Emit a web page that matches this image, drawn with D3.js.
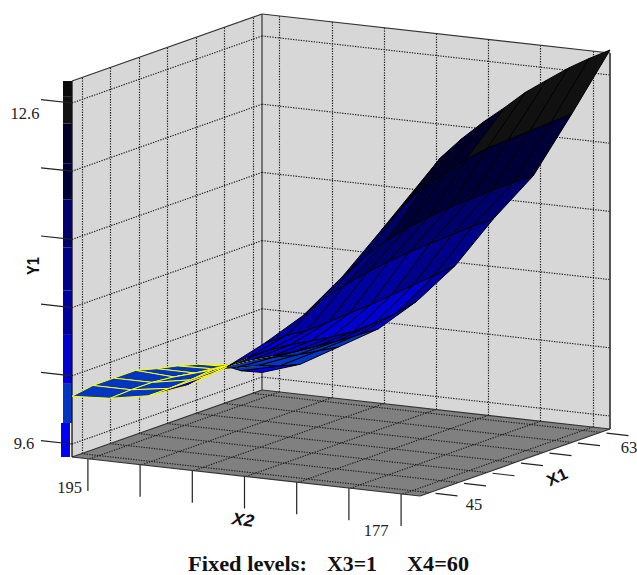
<!DOCTYPE html>
<html><head><meta charset="utf-8">
<script src="https://cdn.jsdelivr.net/npm/d3@7/dist/d3.min.js"></script>
<style>html,body{margin:0;padding:0;background:#fff}svg{display:block}</style>
</head><body><svg id="c" width="637" height="575"></svg>
<script>
// ---- data ----
const x1Ticks = [45,48,51,54,57,60,63];
const x2Ticks = [195,192,189,186,183,180,177];
const y1Ticks = [9.6,10.2,10.8,11.4,12,12.6];
const x1Grid = [44,46.2,48.4,50.7,52.9,55.1,57.3,59.6,61.8,64];
const x2Grid = [196,193.8,191.6,189.3,187.1,184.9,182.7,180.4,178.2,176];
const y1Surface = [
 [10.02,10.05,10.05,10.05,10.00, 9.96, 9.91, 9.84, 9.72, 9.64],
 [10.04,10.05,10.05,10.03,10.00, 9.97, 9.92, 9.87, 9.80, 9.75],
 [10.10,10.10,10.11,10.13,10.12,10.09,10.05,10.00, 9.97, 9.94],
 [10.23,10.26,10.28,10.26,10.23,10.20,10.18,10.16,10.15,10.14],
 [10.43,10.45,10.45,10.43,10.40,10.37,10.35,10.36,10.38,10.42],
 [10.68,10.68,10.66,10.67,10.68,10.69,10.71,10.73,10.75,10.77],
 [10.96,11.05,11.10,11.14,11.17,11.19,11.20,11.21,11.22,11.22],
 [11.35,11.45,11.52,11.57,11.60,11.62,11.63,11.64,11.64,11.64],
 [11.79,11.93,12.03,12.10,12.15,12.18,12.19,12.20,12.21,12.22],
 [12.24,12.40,12.50,12.58,12.64,12.71,12.75,12.79,12.81,12.82]
];
const bandLimits = [9.785,10.13,10.56,10.95,11.33,11.75,12.07,12.42,12.66];
const bandColors = ["#0000f4","#0036c2","#0000d0","#0000a0","#000088","#00006c","#000038","#00002a","#111111","#0a0a0a"];
const fixedLabels = ["Fixed levels:","X3=1","X4=60"];

// ---- scales: an oblique projection of the three axes ----
const uScale = d3.scaleLinear().domain([44,64]).range([0,1]);
const vScale = d3.scaleLinear().domain([196,176]).range([0,1]);
const hScale = d3.scaleLinear().domain([9.6,12.6]).range([13,354]);
const origin=[72,457], uVec=[190,-67], vVec=[348,39];
function P(x1,x2,y){
  const u=uScale(x1), v=vScale(x2);
  return [origin[0]+uVec[0]*u+vVec[0]*v, origin[1]+uVec[1]*u+vVec[1]*v-hScale(y)];
}
const colorOf = d3.scaleThreshold().domain(bandLimits).range(bandColors);
const [x1a,x1b]=uScale.domain(), [x2a,x2b]=vScale.domain();
const yLow=hScale.invert(0), yHigh=hScale.invert(376);

const svg=d3.select("#c");
const line=d3.line();
const poly=pts=>line(pts)+"Z";
const snap=p=>[Math.round(p[0])+.5,p[1]];

// walls and floor
svg.append("path").attr("d",poly([P(x1a,x2a,yLow),P(x1b,x2a,yLow),P(x1b,x2a,yHigh),P(x1a,x2a,yHigh)])).attr("fill","#d7d7d7");
svg.append("path").attr("d",poly([P(x1b,x2a,yLow),P(x1b,x2b,yLow),P(x1b,x2b,yHigh),P(x1b,x2a,yHigh)])).attr("fill","#d7d7d7");
svg.append("path").attr("d",poly([P(x1a,x2a,yLow),P(x1b,x2a,yLow),P(x1b,x2b,yLow),P(x1a,x2b,yLow)])).attr("fill","#808080");

// dotted grid
const gridG=svg.append("g").attr("fill","none").attr("stroke","#1c1c1c").attr("stroke-width",1.15).attr("stroke-dasharray","1.3,1.3");
const seg=(a,b)=>gridG.append("path").attr("d",line([a,b]));
x1Ticks.forEach(t=>{seg(snap(P(t,x2a,yLow)),snap(P(t,x2a,yHigh))); seg(P(t,x2a,yLow),P(t,x2b,yLow));});
x2Ticks.forEach(t=>{seg(snap(P(x1b,t,yLow)),snap(P(x1b,t,yHigh))); seg(P(x1a,t,yLow),P(x1b,t,yLow));});
y1Ticks.forEach(t=>{seg(P(x1a,x2a,t),P(x1b,x2a,t)); seg(P(x1b,x2a,t),P(x1b,x2b,t));});

// box edges
const edgeG=svg.append("g").attr("fill","none").attr("stroke","#333").attr("stroke-width",1.2);
[[P(x1a,x2a,yHigh),P(x1b,x2a,yHigh)],[P(x1b,x2a,yHigh),P(x1b,x2b,yHigh)],
 [P(x1b,x2a,yLow),P(x1b,x2a,yHigh)],
 [P(x1a,x2a,yLow),P(x1b,x2a,yLow)],[P(x1b,x2a,yLow),P(x1b,x2b,yLow)],
 [P(x1a,x2b,yLow),P(x1b,x2b,yLow)],[P(x1a,x2a,yLow),P(x1a,x2b,yLow)]]
 .forEach(s=>edgeG.append("path").attr("d",line(s)));
edgeG.append("path").attr("d",line([P(x1b,x2b,yLow),P(x1b,x2b,yHigh)])).attr("stroke","#444").attr("stroke-width",1.8);

// colour bar, one block per band
const barG=svg.append("g");
const barEdges=[yLow,...bandLimits,yHigh];
const barRight=P(x1a,x2a,yLow)[0];
bandColors.forEach((c,i)=>{
  const top=P(x1a,x2a,barEdges[i+1])[1], bot=P(x1a,x2a,barEdges[i])[1];
  barG.append("rect").attr("x",barRight-(i===0?11:9)).attr("width",9).attr("y",top).attr("height",bot-top).attr("fill",c);
});
svg.append("path").attr("d",line([P(x1a,x2a,yLow),P(x1a,x2a,yHigh)])).attr("stroke","#111").attr("stroke-width",1.3).attr("fill","none");

// surface, far cells first; yellow mesh on the upper face, black on the under face
const surfG=svg.append("g").attr("stroke-linejoin","round");
for(let i=x1Grid.length-2;i>=0;i--){
  for(let j=0;j<x2Grid.length-1;j++){
    const zs=[y1Surface[j][i],y1Surface[j][i+1],y1Surface[j+1][i+1],y1Surface[j+1][i]];
    const pts=[P(x1Grid[i],x2Grid[j],zs[0]),P(x1Grid[i+1],x2Grid[j],zs[1]),P(x1Grid[i+1],x2Grid[j+1],zs[2]),P(x1Grid[i],x2Grid[j+1],zs[3])];
    surfG.append("path").attr("d",poly(pts)).attr("fill",colorOf(d3.mean(zs)))
      .attr("stroke",d3.polygonArea(pts)<0?"#ffff00":"#000").attr("stroke-width",1);
  }
}

// axis ticks
const tickG=svg.append("g").attr("stroke","#222").attr("stroke-width",1.2).attr("fill","none");
y1Ticks.forEach(t=>{const p=P(x1a,x2a,t); tickG.append("path").attr("d",line([[p[0]-31,p[1]-3.4],p]));});
x2Ticks.forEach(t=>{const p=P(x1a,t,yLow); tickG.append("path").attr("d",line([[p[0]-1.5,p[1]],[p[0]-1.5,p[1]+32]]));});
x1Ticks.forEach(t=>{const p=P(t,x2b,yLow); tickG.append("path").attr("d",line([[p[0]+6,p[1]+.7],[p[0]+28,p[1]+3.2]]));});

// labels
const serif="'Liberation Serif','Times New Roman',serif", sans="'Liberation Sans',Arial,sans-serif";
const label=(s,x,y,o={})=>{
  const t=svg.append("text").text(s).attr("x",x).attr("y",y)
  .attr("text-anchor",o.anchor||"middle").attr("dominant-baseline","central")
  .attr("font-family",o.family||serif).attr("font-size",o.size||16.5).attr("font-weight",o.weight||"normal")
  .attr("font-style",o.style||"normal").attr("fill",o.fill||"#222")
  .attr("transform",o.rot?`rotate(${o.rot} ${x} ${y})`:null);
  if(o.len) t.attr("textLength",o.len).attr("lengthAdjust","spacingAndGlyphs");
  return t;
};
label(d3.format(".1f")(y1Ticks[5]),25,113);
label(d3.format(".1f")(y1Ticks[0]),24,443);
label(String(x2Ticks[0]),69.5,487);
label(String(x2Ticks[6]),376,530);
label(String(x1Ticks[0]),474,504);
label(String(x1Ticks[6]),629,447);
label("Y1",33,266,{family:sans,weight:"bold",size:16,len:18,rot:-90,fill:"#111"});
label("X2",243,520,{family:sans,weight:"bold",style:"italic",size:17,len:22,rot:8,fill:"#111"});
label("X1",557,477,{family:sans,weight:"bold",size:16,len:21,rot:-25,fill:"#111"});
[[fixedLabels[0],188,119],[fixedLabels[1],327,50],[fixedLabels[2],407,62]].forEach(d=>
  label(d[0],d[1],564,{anchor:"start",weight:"bold",size:20,len:d[2],fill:"#111"}));
</script></body></html>
